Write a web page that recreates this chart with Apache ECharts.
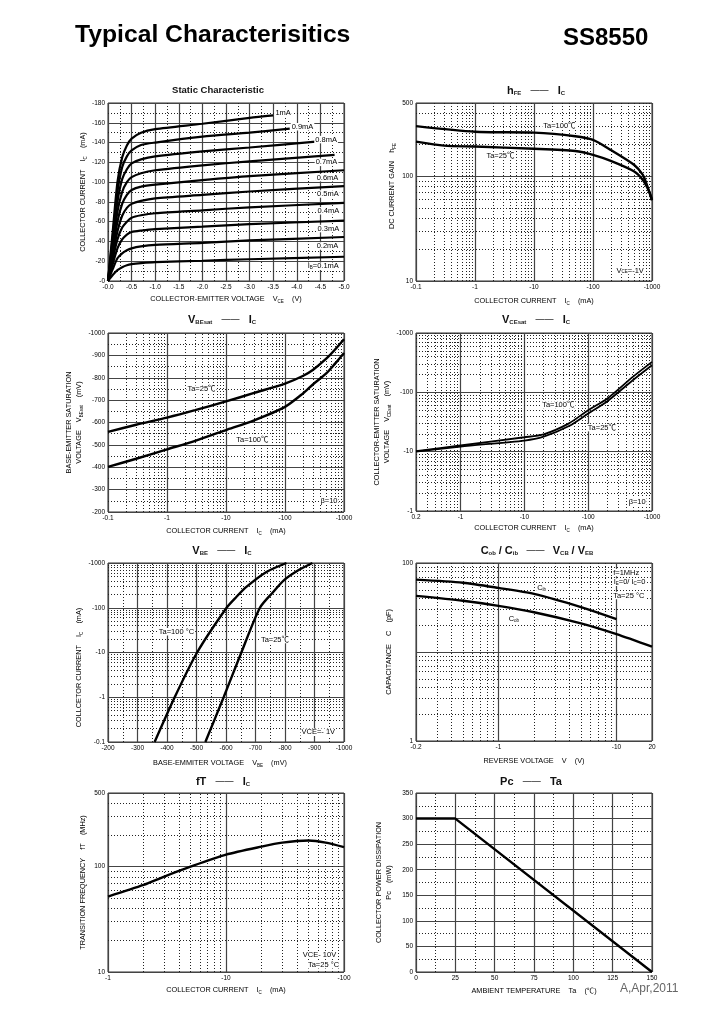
<!DOCTYPE html>
<html>

<head>
    <meta charset="utf-8">
    <title>SS8550 Typical Characteristics</title>
    <script src="https://cdn.jsdelivr.net/npm/echarts@6/dist/echarts.min.js"></script>
    <style>
        html, body { margin: 0; padding: 0; background: #fff; }
    </style>
</head>

<body>
    <div id="main" style="width: 724px;height:1024px;"></div>
    <script type="text/javascript">
        // Static characteristic: Vce (V) against Ic (mA), one list per base current
        var staticVce = [0, 0.1, 0.2, 0.3, 0.4, 0.5, 0.7, 1, 2, 3];
        var staticEnds = [3.5, 3.85, 4.4, 4.8, 5, 5, 5, 5, 5, 5];
        var ic1mA = [0, 50, 100, 125, 137, 144, 150, 153.5, 159, 165, 167.5];
        var ic09mA = [0, 45, 90, 115, 126, 132, 137.5, 140, 146, 150, 154];
        var ic08mA = [0, 40, 80, 103, 113, 119, 123, 126, 131, 135, 141];
        var ic07mA = [0, 35, 70, 90, 100, 105, 109, 112, 117, 121, 127.5];
        var ic06mA = [0, 30, 60, 78, 87, 92, 95.5, 97.5, 102, 106, 112];
        var ic05mA = [0, 26, 50, 66, 74, 78, 81, 83.5, 87, 90.5, 96];
        var ic04mA = [0, 22, 42, 54, 60, 64, 66.5, 68.5, 71.5, 74.5, 79];
        var ic03mA = [0, 17, 33, 42, 47, 49.5, 51, 52.5, 55, 57.5, 61];
        var ic02mA = [0, 12, 23, 28, 31, 33, 35, 36.5, 38.5, 41, 44.5];
        var ic01mA = [0, 6, 11, 14, 16, 17, 18, 19, 20.5, 22, 24.5];

        // hFE - Ic
        var hfeIc100 = [0.1, 1, 10, 50, 100, 200, 500, 700, 800, 1000];
        var hfe100 = [301, 266, 261, 241, 222, 178, 128, 103, 86, 59];
        var hfeIc25 = [0.1, 0.3, 1, 10, 50, 100, 200, 500, 700, 900, 1000];
        var hfe25 = [214, 196, 192, 183, 174, 160, 140, 111, 92, 71, 59];

        // VBEsat - Ic
        var vbeIc = [0.1, 0.3, 1, 3, 10, 30, 100, 200, 300, 500, 700, 1000];
        var vbeSat25 = [558, 590, 622, 655, 694, 732, 774, 808, 836, 885, 925, 972];
        var vbeSat100 = [402, 438, 480, 518, 566, 610, 670, 729, 771, 819, 862, 911];

        // VCEsat - Ic
        var vceIc = [0.2, 1, 10, 20, 50, 100, 200, 500, 1000];
        var vceSat100 = [10.2, 12.7, 17.5, 19.6, 30, 50, 79, 182, 326];
        var vceSat25 = [10, 12.2, 15.4, 17.9, 27, 44, 71, 160, 286];

        // VBE - Ic
        var vbeOn100 = [358, 426, 502, 602, 635, 669, 737, 805];
        var ic100 = [0.1, 1, 10, 100, 174, 292, 631, 1000];
        var vbeOn25 = [530, 592, 652, 715, 760, 796, 845, 893];
        var ic25 = [0.1, 1, 10, 100, 225, 410, 687, 1000];

        // Cob / Cib - reverse voltage
        var cibV = [0.2, 0.5, 1, 2, 5, 10];
        var cib = [65, 60, 52.5, 45, 32, 23.4];
        var cobV = [0.2, 0.5, 1, 2, 5, 10, 20];
        var cob = [42.7, 37.6, 33, 28, 21, 15.9, 11.5];

        // fT - Ic
        var ftIc = [1, 2, 3, 5, 10, 20, 30, 50, 70, 100];
        var ft = [52, 67, 80.6, 100, 130, 155, 169, 177, 169, 153];

        // Pc - Ta
        var ta = [0, 25, 150];
        var pc = [300, 300, 0];

        var FONT = "'Liberation Sans','Noto Sans CJK SC',sans-serif";

        function pairs(xs, ys) {
            var out = [];
            for (var i = 0; i < ys.length; i++) {
                out.push([xs[i], ys[i]]);
            }
            return out;
        }

        // dotted lines at 2..9 of each decade
        function logMinors(min, max) {
            var out = [];
            for (var d = -3; d < 4; d++) {
                for (var k = 2; k < 10; k++) {
                    var v = parseFloat((k * Math.pow(10, d)).toPrecision(2));
                    if (v > min && v < max) out.push(v);
                }
            }
            return out;
        }

        // dotted lines half way between the solid ones
        function midLines(min, max, step) {
            var out = [];
            for (var v = min + step / 2; v < max; v += step) {
                out.push(v);
            }
            return out;
        }

        function negative(v) {
            return '-' + parseFloat(v.toPrecision(3));
        }

        function plain(v) {
            return '' + parseFloat(v.toPrecision(3));
        }

        var panels = [
            {
                title: 'Static Characteristic', titleX: 218, titleY: 86, titleSize: 9.5,
                left: 108, top: 103, width: 236, height: 178,
                x: { min: 0, max: 5, interval: 0.5, fmt: function (v) { return '-' + v.toFixed(1); } },
                y: { min: 0, max: 180, interval: 20, fmt: function (v) { return '-' + v; } },
                xName: 'COLLECTOR-EMITTER VOLTAGE    V{s|CE}    (V)', xGap: 13,
                yName: 'COLLECTOR CURRENT    I{s|C}    (mA)', yGap: 20,
                minorX: midLines(0, 5, 0.5), minorY: midLines(0, 180, 20),
                lines: [
                    pairs(staticVce.concat(staticEnds[0]), ic1mA),
                    pairs(staticVce.concat(staticEnds[1]), ic09mA),
                    pairs(staticVce.concat(staticEnds[2]), ic08mA),
                    pairs(staticVce.concat(staticEnds[3]), ic07mA),
                    pairs(staticVce.concat(staticEnds[4]), ic06mA),
                    pairs(staticVce.concat(staticEnds[5]), ic05mA),
                    pairs(staticVce.concat(staticEnds[6]), ic04mA),
                    pairs(staticVce.concat(staticEnds[7]), ic03mA),
                    pairs(staticVce.concat(staticEnds[8]), ic02mA),
                    pairs(staticVce.concat(staticEnds[9]), ic01mA)
                ],
                lineWidth: 2.2,
                notes: [
                    ['1mA', 3.71, 170], ['0.9mA', 4.12, 156], ['0.8mA', 4.62, 143], ['0.7mA', 4.63, 120],
                    ['0.6mA', 4.65, 104.5], ['0.5mA', 4.66, 88], ['0.4mA', 4.67, 71], ['0.3mA', 4.67, 53],
                    ['0.2mA', 4.65, 35.4], ['I{s|B}=0.1mA', 4.56, 15]
                ]
            },
            {
                title: '{b|h}{s|FE}   {d|——}   {b|I}{s|C}', titleX: 536, titleY: 85,
                left: 416, top: 103, width: 236, height: 178,
                x: { log: true, min: 0.1, max: 1000, fmt: negative },
                y: { log: true, min: 10, max: 500, fmt: plain },
                xName: 'COLLECTOR CURRENT    I{s|C}    (mA)', xGap: 15,
                yName: 'DC CURRENT GAIN    h{s|FE}', yGap: 19, yShift: -6,
                minorX: logMinors(0.1, 1000), minorY: logMinors(10, 500),
                lines: [pairs(hfeIc100, hfe100), pairs(hfeIc25, hfe25)],
                notes: [['Ta=100℃', 27, 301], ['Ta=25℃', 2.7, 155], ['V{s|CE}=-1V', 427, 12.6]]
            },
            {
                title: '{b|V}{s|BEsat}   {d|——}   {b|I}{s|C}', titleX: 222, titleY: 314,
                left: 108, top: 333, width: 236, height: 179,
                x: { log: true, min: 0.1, max: 1000, fmt: negative },
                y: { min: 200, max: 1000, interval: 100, fmt: function (v) { return '-' + v; } },
                xName: 'COLLECTOR CURRENT    I{s|C}    (mA)', xGap: 14,
                yName: 'BASE-EMITTER SATURATION\nVOLTAGE    V{s|BEsat}    (mV)', yGap: 24,
                minorX: logMinors(0.1, 1000), minorY: midLines(200, 1000, 100),
                lines: [pairs(vbeIc, vbeSat25), pairs(vbeIc, vbeSat100)],
                notes: [['Ta=25℃', 3.84, 749], ['Ta=100℃', 28, 524], ['β=10', 556, 250]]
            },
            {
                title: '{b|V}{s|CEsat}   {d|——}   {b|I}{s|C}', titleX: 536, titleY: 314,
                left: 416, top: 333, width: 236, height: 178,
                x: { log: true, min: 0.2, max: 1000, fmt: function (v) { return v < 0.5 ? '0.2' : negative(v); } },
                y: { log: true, min: 1, max: 1000, fmt: negative },
                xName: 'COLLECTOR CURRENT    I{s|C}    (mA)', xGap: 12,
                yName: 'COLLECTOR-EMITTER SATURATION\nVOLTAGE    V{s|CEsat}    (mV)', yGap: 22,
                minorX: logMinors(0.2, 1000), minorY: logMinors(1, 1000),
                lines: [pairs(vceIc, vceSat100), pairs(vceIc, vceSat25)],
                lineWidth: 1.8,
                notes: [['Ta=100℃', 34, 61], ['Ta=25℃', 164, 25.4], ['β=10', 585, 1.43]]
            },
            {
                title: '{b|V}{s|BE}   {d|——}   {b|I}{s|C}', titleX: 222, titleY: 545,
                left: 108, top: 563, width: 236, height: 179,
                x: { min: 200, max: 1000, interval: 100, fmt: function (v) { return '-' + v; } },
                y: { log: true, min: 0.1, max: 1000, fmt: negative },
                xName: 'BASE-EMMITER VOLTAGE    V{s|BE}    (mV)', xGap: 16, xShift: -6,
                yName: 'COLLCETOR CURRENT    I{s|C}    (mA)', yGap: 23, yShift: 15,
                minorX: midLines(200, 1000, 100), minorY: logMinors(0.1, 1000),
                lines: [pairs(vbeOn100, ic100), pairs(vbeOn25, ic25)],
                notes: [['Ta=100 °C', 432, 29], ['Ta=25℃', 766, 19.5], ['VCE=- 1V', 913, 0.165]]
            },
            {
                title: '{b|C}{s|ob} {b|/ C}{s|ib}   {d|——}   {b|V}{s|CB} {b|/ V}{s|EB}', titleX: 537, titleY: 545, titleSize: 10,
                left: 416, top: 563, width: 236, height: 178,
                x: { log: true, min: 0.2, max: 20, fmt: function (v) { return v > 15 ? '20' : negative(v); } },
                y: { log: true, min: 1, max: 100, fmt: function (v) { return v > 2 && v < 50 ? '' : plain(v); } },
                xName: 'REVERSE VOLTAGE    V    (V)', xGap: 15,
                yName: 'CAPACITANCE    C    (pF)', yGap: 22,
                minorX: logMinors(0.2, 20), minorY: logMinors(1, 100),
                lines: [pairs(cibV, cib), pairs(cobV, cob)],
                notes: [
                    ['f=1MHz', 12.1, 78], ['I{s|E}=0/ I{s|C}=0', 12.9, 60.8], ['Ta=25 °C', 12.7, 43],
                    ['C{s|ib}', 2.32, 52.5], ['C{s|ob}', 1.35, 23.4]
                ]
            },
            {
                title: '{b|fT}   {d|——}   {b|I}{s|C}', titleX: 223, titleY: 776,
                left: 108, top: 793, width: 236, height: 179,
                x: { log: true, min: 1, max: 100, fmt: negative },
                y: { log: true, min: 10, max: 500, fmt: plain },
                xName: 'COLLECTOR CURRENT    I{s|C}    (mA)', xGap: 13,
                yName: 'TRANSITION FREQUENCY    fT    (MHz)', yGap: 20,
                minorX: logMinors(1, 100), minorY: logMinors(10, 500),
                lines: [pairs(ftIc, ft)],
                notes: [['VCE- 10V', 62, 14.6], ['Ta=25 °C', 67, 11.7]]
            },
            {
                title: '{b|Pc}   {d|——}   {b|Ta}', titleX: 531, titleY: 776,
                left: 416, top: 793, width: 236, height: 179,
                x: { min: 0, max: 150, interval: 25, fmt: plain },
                y: { min: 0, max: 350, interval: 50, fmt: plain },
                xName: 'AMBIENT TEMPERATURE    Ta    (℃)', xGap: 14,
                yName: 'COLLECTOR POWER DISSIPATION\nPc    (mW)', yGap: 22,
                minorX: midLines(0, 150, 25), minorY: midLines(0, 350, 50),
                lines: [pairs(ta, pc)],
                straight: true,
                notes: []
            }
        ];

        var subStyle = { fontSize: 4.5, fontFamily: FONT, color: '#000', verticalAlign: 'bottom' };
        var titleRich = {
            b: { fontSize: 11, fontWeight: 'bold', fontFamily: FONT, color: '#111' },
            s: { fontSize: 6, fontWeight: 'bold', fontFamily: FONT, color: '#222', verticalAlign: 'bottom' },
            d: { fontSize: 9, fontFamily: FONT, color: '#555' }
        };

        // shift moves the centred name along the axis by padding one end of it
        function axisOf(def, index, name, gap, shift, vertical) {
            var s = Math.abs(shift || 0) * 2;
            var pad = [0, 0, 0, 0];
            if (vertical) {
                pad = shift > 0 ? [0, s, 0, 0] : [0, 0, 0, s];
            } else {
                pad = shift > 0 ? [0, 0, 0, s] : [0, s, 0, 0];
            }
            var axis = {
                gridIndex: index,
                min: def.min,
                max: def.max,
                name: name,
                nameLocation: 'middle',
                nameGap: gap,
                nameTextStyle: { fontSize: 7.3, fontFamily: FONT, color: '#000', lineHeight: 10, padding: pad, rich: { s: subStyle } },
                axisLine: { show: false },
                axisTick: { show: false },
                axisLabel: { fontSize: 6.5, fontFamily: FONT, color: '#000', margin: 3, formatter: def.fmt, showMinLabel: true, showMaxLabel: true, hideOverlap: false },
                splitLine: { show: true, lineStyle: { color: '#444', width: 1.2 } }
            };
            if (def.log) {
                axis.type = 'log';
                axis.logBase = 10;
            } else {
                axis.type = 'value';
                axis.interval = def.interval;
            }
            return axis;
        }

        var option = {
            animation: false,
            backgroundColor: '#fff',
            title: [
                { text: 'Typical Characterisitics', left: 75, top: 23, padding: 0, textStyle: { fontSize: 24.7, fontWeight: 'bold', fontFamily: FONT, color: '#000' } },
                { text: 'SS8550', left: 563, top: 26, padding: 0, textStyle: { fontSize: 24, fontWeight: 'bold', fontFamily: FONT, color: '#000' } },
                { text: 'A,Apr,2011', left: 620, top: 983, padding: 0, textStyle: { fontSize: 12, fontWeight: 'normal', fontFamily: FONT, color: '#666' } }
            ],
            grid: [],
            xAxis: [],
            yAxis: [],
            series: []
        };

        panels.forEach(function (p, i) {
            option.title.push({
                text: p.title,
                left: p.titleX,
                top: p.titleY,
                padding: 0,
                textAlign: 'center',
                textStyle: { fontSize: p.titleSize || 11, fontWeight: 'bold', fontFamily: FONT, color: '#111', rich: titleRich }
            });
            option.grid.push({
                left: p.left, top: p.top, width: p.width, height: p.height,
                show: true, borderColor: '#333', borderWidth: 1, backgroundColor: 'transparent'
            });
            option.xAxis.push(axisOf(p.x, i, p.xName, p.xGap, p.xShift, false));
            option.yAxis.push(axisOf(p.y, i, p.yName, p.yGap, p.yShift, true));

            var dotted = p.minorX.map(function (v) { return { xAxis: v }; })
                .concat(p.minorY.map(function (v) { return { yAxis: v }; }));
            option.series.push({
                type: 'line',
                xAxisIndex: i,
                yAxisIndex: i,
                data: [],
                markLine: {
                    silent: true,
                    z: 1,
                    symbol: 'none',
                    animation: false,
                    label: { show: false },
                    lineStyle: { color: '#222', type: [1, 2], width: 1 },
                    data: dotted
                }
            });
            p.lines.forEach(function (line) {
                option.series.push({
                    type: 'line',
                    xAxisIndex: i,
                    yAxisIndex: i,
                    data: line,
                    z: 3,
                    symbol: 'none',
                    smooth: p.straight ? false : 0.25,
                    lineStyle: { color: '#000', width: p.lineWidth || 2.4 }
                });
            });
            // scatter fades its labels by default, so opacity has to be set here
            option.series.push({
                type: 'scatter',
                xAxisIndex: i,
                yAxisIndex: i,
                z: 6,
                symbolSize: 0,
                silent: true,
                itemStyle: { opacity: 1 },
                data: p.notes.map(function (n) { return { value: [n[1], n[2]], name: n[0] }; }),
                label: {
                    show: true,
                    position: 'inside',
                    formatter: function (d) { return d.name; },
                    fontSize: 7.5,
                    fontFamily: FONT,
                    color: '#000',
                    backgroundColor: '#fff',
                    padding: [0, 1],
                    rich: { s: subStyle }
                }
            });
        });

        var myChart = echarts.init(document.getElementById('main'));
        myChart.setOption(option);
    </script>
</body>
</html>
